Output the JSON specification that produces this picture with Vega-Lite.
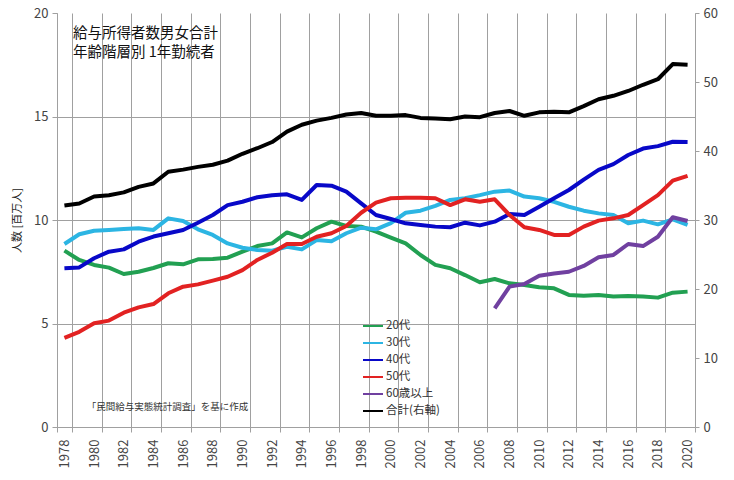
{
  "$schema": "https://vega.github.io/schema/vega-lite/v6.json",
  "width": 638,
  "height": 414,
  "autosize": {"type": "none"},
  "padding": {"left": 57, "top": 13, "right": 39, "bottom": 53},
  "background": "white",
  "title": {
    "text": ["給与所得者数男女合計", "年齢階層別 1年勤続者"],
    "anchor": "start",
    "frame": "group",
    "orient": "top",
    "offset": 0,
    "baseline": "top",
    "dx": 16,
    "dy": 53,
    "fontSize": 14.5,
    "fontWeight": "normal",
    "color": "#111111",
    "lineHeight": 19,
    "font": "Noto Sans CJK JP"
  },
  "datasets": {
    "ages": [
      {"year": 1978, "group": "20代", "value": 8.52}, {"year": 1979, "group": "20代", "value": 8.07}, {"year": 1980, "group": "20代", "value": 7.83}, {"year": 1981, "group": "20代", "value": 7.7}, {"year": 1982, "group": "20代", "value": 7.39}, {"year": 1983, "group": "20代", "value": 7.5}, {"year": 1984, "group": "20代", "value": 7.68}, {"year": 1985, "group": "20代", "value": 7.91}, {"year": 1986, "group": "20代", "value": 7.86}, {"year": 1987, "group": "20代", "value": 8.1}, {"year": 1988, "group": "20代", "value": 8.12}, {"year": 1989, "group": "20代", "value": 8.18}, {"year": 1990, "group": "20代", "value": 8.47}, {"year": 1991, "group": "20代", "value": 8.74}, {"year": 1992, "group": "20代", "value": 8.87}, {"year": 1993, "group": "20代", "value": 9.4}, {"year": 1994, "group": "20代", "value": 9.16}, {"year": 1995, "group": "20代", "value": 9.6}, {"year": 1996, "group": "20代", "value": 9.92}, {"year": 1997, "group": "20代", "value": 9.71}, {"year": 1998, "group": "20代", "value": 9.68}, {"year": 1999, "group": "20代", "value": 9.44}, {"year": 2000, "group": "20代", "value": 9.15}, {"year": 2001, "group": "20代", "value": 8.87}, {"year": 2002, "group": "20代", "value": 8.31}, {"year": 2003, "group": "20代", "value": 7.83}, {"year": 2004, "group": "20代", "value": 7.67}, {"year": 2005, "group": "20代", "value": 7.34}, {"year": 2006, "group": "20代", "value": 6.99}, {"year": 2007, "group": "20代", "value": 7.15}, {"year": 2008, "group": "20代", "value": 6.94}, {"year": 2009, "group": "20代", "value": 6.86}, {"year": 2010, "group": "20代", "value": 6.75}, {"year": 2011, "group": "20代", "value": 6.7}, {"year": 2012, "group": "20代", "value": 6.38}, {"year": 2013, "group": "20代", "value": 6.34}, {"year": 2014, "group": "20代", "value": 6.38}, {"year": 2015, "group": "20代", "value": 6.3}, {"year": 2016, "group": "20代", "value": 6.33}, {"year": 2017, "group": "20代", "value": 6.3}, {"year": 2018, "group": "20代", "value": 6.25}, {"year": 2019, "group": "20代", "value": 6.49}, {"year": 2020, "group": "20代", "value": 6.54},
      {"year": 1978, "group": "30代", "value": 8.84}, {"year": 1979, "group": "30代", "value": 9.31}, {"year": 1980, "group": "30代", "value": 9.48}, {"year": 1981, "group": "30代", "value": 9.52}, {"year": 1982, "group": "30代", "value": 9.57}, {"year": 1983, "group": "30代", "value": 9.6}, {"year": 1984, "group": "30代", "value": 9.52}, {"year": 1985, "group": "30代", "value": 10.08}, {"year": 1986, "group": "30代", "value": 9.95}, {"year": 1987, "group": "30代", "value": 9.55}, {"year": 1988, "group": "30代", "value": 9.28}, {"year": 1989, "group": "30代", "value": 8.87}, {"year": 1990, "group": "30代", "value": 8.66}, {"year": 1991, "group": "30代", "value": 8.55}, {"year": 1992, "group": "30代", "value": 8.52}, {"year": 1993, "group": "30代", "value": 8.71}, {"year": 1994, "group": "30代", "value": 8.58}, {"year": 1995, "group": "30代", "value": 9.03}, {"year": 1996, "group": "30代", "value": 8.97}, {"year": 1997, "group": "30代", "value": 9.36}, {"year": 1998, "group": "30代", "value": 9.63}, {"year": 1999, "group": "30代", "value": 9.55}, {"year": 2000, "group": "30代", "value": 9.85}, {"year": 2001, "group": "30代", "value": 10.35}, {"year": 2002, "group": "30代", "value": 10.45}, {"year": 2003, "group": "30代", "value": 10.68}, {"year": 2004, "group": "30代", "value": 10.97}, {"year": 2005, "group": "30代", "value": 11.05}, {"year": 2006, "group": "30代", "value": 11.2}, {"year": 2007, "group": "30代", "value": 11.37}, {"year": 2008, "group": "30代", "value": 11.42}, {"year": 2009, "group": "30代", "value": 11.13}, {"year": 2010, "group": "30代", "value": 11.05}, {"year": 2011, "group": "30代", "value": 10.88}, {"year": 2012, "group": "30代", "value": 10.64}, {"year": 2013, "group": "30代", "value": 10.45}, {"year": 2014, "group": "30代", "value": 10.32}, {"year": 2015, "group": "30代", "value": 10.24}, {"year": 2016, "group": "30代", "value": 9.84}, {"year": 2017, "group": "30代", "value": 9.97}, {"year": 2018, "group": "30代", "value": 9.79}, {"year": 2019, "group": "30代", "value": 10.03}, {"year": 2020, "group": "30代", "value": 9.76},
      {"year": 1978, "group": "40代", "value": 7.67}, {"year": 1979, "group": "40代", "value": 7.71}, {"year": 1980, "group": "40代", "value": 8.15}, {"year": 1981, "group": "40代", "value": 8.47}, {"year": 1982, "group": "40代", "value": 8.58}, {"year": 1983, "group": "40代", "value": 8.95}, {"year": 1984, "group": "40代", "value": 9.2}, {"year": 1985, "group": "40代", "value": 9.36}, {"year": 1986, "group": "40代", "value": 9.52}, {"year": 1987, "group": "40代", "value": 9.87}, {"year": 1988, "group": "40代", "value": 10.24}, {"year": 1989, "group": "40代", "value": 10.72}, {"year": 1990, "group": "40代", "value": 10.88}, {"year": 1991, "group": "40代", "value": 11.1}, {"year": 1992, "group": "40代", "value": 11.2}, {"year": 1993, "group": "40代", "value": 11.24}, {"year": 1994, "group": "40代", "value": 10.97}, {"year": 1995, "group": "40代", "value": 11.69}, {"year": 1996, "group": "40代", "value": 11.66}, {"year": 1997, "group": "40代", "value": 11.37}, {"year": 1998, "group": "40代", "value": 10.8}, {"year": 1999, "group": "40代", "value": 10.24}, {"year": 2000, "group": "40代", "value": 10.05}, {"year": 2001, "group": "40代", "value": 9.84}, {"year": 2002, "group": "40代", "value": 9.76}, {"year": 2003, "group": "40代", "value": 9.68}, {"year": 2004, "group": "40代", "value": 9.65}, {"year": 2005, "group": "40代", "value": 9.87}, {"year": 2006, "group": "40代", "value": 9.74}, {"year": 2007, "group": "40代", "value": 9.92}, {"year": 2008, "group": "40代", "value": 10.29}, {"year": 2009, "group": "40代", "value": 10.24}, {"year": 2010, "group": "40代", "value": 10.64}, {"year": 2011, "group": "40代", "value": 11.05}, {"year": 2012, "group": "40代", "value": 11.45}, {"year": 2013, "group": "40代", "value": 11.95}, {"year": 2014, "group": "40代", "value": 12.42}, {"year": 2015, "group": "40代", "value": 12.7}, {"year": 2016, "group": "40代", "value": 13.14}, {"year": 2017, "group": "40代", "value": 13.45}, {"year": 2018, "group": "40代", "value": 13.57}, {"year": 2019, "group": "40代", "value": 13.78}, {"year": 2020, "group": "40代", "value": 13.77},
      {"year": 1978, "group": "50代", "value": 4.31}, {"year": 1979, "group": "50代", "value": 4.6}, {"year": 1980, "group": "50代", "value": 5.01}, {"year": 1981, "group": "50代", "value": 5.14}, {"year": 1982, "group": "50代", "value": 5.52}, {"year": 1983, "group": "50代", "value": 5.78}, {"year": 1984, "group": "50代", "value": 5.94}, {"year": 1985, "group": "50代", "value": 6.46}, {"year": 1986, "group": "50代", "value": 6.78}, {"year": 1987, "group": "50代", "value": 6.89}, {"year": 1988, "group": "50代", "value": 7.07}, {"year": 1989, "group": "50代", "value": 7.26}, {"year": 1990, "group": "50代", "value": 7.58}, {"year": 1991, "group": "50代", "value": 8.07}, {"year": 1992, "group": "50代", "value": 8.42}, {"year": 1993, "group": "50代", "value": 8.84}, {"year": 1994, "group": "50代", "value": 8.84}, {"year": 1995, "group": "50代", "value": 9.19}, {"year": 1996, "group": "50代", "value": 9.36}, {"year": 1997, "group": "50代", "value": 9.71}, {"year": 1998, "group": "50代", "value": 10.35}, {"year": 1999, "group": "50代", "value": 10.84}, {"year": 2000, "group": "50代", "value": 11.05}, {"year": 2001, "group": "50代", "value": 11.08}, {"year": 2002, "group": "50代", "value": 11.08}, {"year": 2003, "group": "50代", "value": 11.05}, {"year": 2004, "group": "50代", "value": 10.72}, {"year": 2005, "group": "50代", "value": 11.0}, {"year": 2006, "group": "50代", "value": 10.88}, {"year": 2007, "group": "50代", "value": 11.0}, {"year": 2008, "group": "50代", "value": 10.24}, {"year": 2009, "group": "50代", "value": 9.65}, {"year": 2010, "group": "50代", "value": 9.52}, {"year": 2011, "group": "50代", "value": 9.28}, {"year": 2012, "group": "50代", "value": 9.28}, {"year": 2013, "group": "50代", "value": 9.68}, {"year": 2014, "group": "50代", "value": 9.97}, {"year": 2015, "group": "50代", "value": 10.08}, {"year": 2016, "group": "50代", "value": 10.24}, {"year": 2017, "group": "50代", "value": 10.72}, {"year": 2018, "group": "50代", "value": 11.2}, {"year": 2019, "group": "50代", "value": 11.9}, {"year": 2020, "group": "50代", "value": 12.13},
      {"year": 2007, "group": "60歳以上", "value": 5.73}, {"year": 2008, "group": "60歳以上", "value": 6.78}, {"year": 2009, "group": "60歳以上", "value": 6.91}, {"year": 2010, "group": "60歳以上", "value": 7.31}, {"year": 2011, "group": "60歳以上", "value": 7.42}, {"year": 2012, "group": "60歳以上", "value": 7.5}, {"year": 2013, "group": "60歳以上", "value": 7.78}, {"year": 2014, "group": "60歳以上", "value": 8.2}, {"year": 2015, "group": "60歳以上", "value": 8.31}, {"year": 2016, "group": "60歳以上", "value": 8.84}, {"year": 2017, "group": "60歳以上", "value": 8.74}, {"year": 2018, "group": "60歳以上", "value": 9.19}, {"year": 2019, "group": "60歳以上", "value": 10.13}, {"year": 2020, "group": "60歳以上", "value": 9.95}
    ],
    "total": [
      {"year": 1978, "group": "合計(右軸)", "value": 32.1}, {"year": 1979, "group": "合計(右軸)", "value": 32.4}, {"year": 1980, "group": "合計(右軸)", "value": 33.4}, {"year": 1981, "group": "合計(右軸)", "value": 33.6}, {"year": 1982, "group": "合計(右軸)", "value": 34.0}, {"year": 1983, "group": "合計(右軸)", "value": 34.8}, {"year": 1984, "group": "合計(右軸)", "value": 35.3}, {"year": 1985, "group": "合計(右軸)", "value": 37.0}, {"year": 1986, "group": "合計(右軸)", "value": 37.3}, {"year": 1987, "group": "合計(右軸)", "value": 37.7}, {"year": 1988, "group": "合計(右軸)", "value": 38.0}, {"year": 1989, "group": "合計(右軸)", "value": 38.6}, {"year": 1990, "group": "合計(右軸)", "value": 39.6}, {"year": 1991, "group": "合計(右軸)", "value": 40.4}, {"year": 1992, "group": "合計(右軸)", "value": 41.3}, {"year": 1993, "group": "合計(右軸)", "value": 42.8}, {"year": 1994, "group": "合計(右軸)", "value": 43.8}, {"year": 1995, "group": "合計(右軸)", "value": 44.4}, {"year": 1996, "group": "合計(右軸)", "value": 44.8}, {"year": 1997, "group": "合計(右軸)", "value": 45.3}, {"year": 1998, "group": "合計(右軸)", "value": 45.5}, {"year": 1999, "group": "合計(右軸)", "value": 45.1}, {"year": 2000, "group": "合計(右軸)", "value": 45.1}, {"year": 2001, "group": "合計(右軸)", "value": 45.2}, {"year": 2002, "group": "合計(右軸)", "value": 44.8}, {"year": 2003, "group": "合計(右軸)", "value": 44.7}, {"year": 2004, "group": "合計(右軸)", "value": 44.6}, {"year": 2005, "group": "合計(右軸)", "value": 45.0}, {"year": 2006, "group": "合計(右軸)", "value": 44.9}, {"year": 2007, "group": "合計(右軸)", "value": 45.5}, {"year": 2008, "group": "合計(右軸)", "value": 45.8}, {"year": 2009, "group": "合計(右軸)", "value": 45.1}, {"year": 2010, "group": "合計(右軸)", "value": 45.6}, {"year": 2011, "group": "合計(右軸)", "value": 45.7}, {"year": 2012, "group": "合計(右軸)", "value": 45.6}, {"year": 2013, "group": "合計(右軸)", "value": 46.5}, {"year": 2014, "group": "合計(右軸)", "value": 47.5}, {"year": 2015, "group": "合計(右軸)", "value": 48.0}, {"year": 2016, "group": "合計(右軸)", "value": 48.7}, {"year": 2017, "group": "合計(右軸)", "value": 49.6}, {"year": 2018, "group": "合計(右軸)", "value": 50.4}, {"year": 2019, "group": "合計(右軸)", "value": 52.6}, {"year": 2020, "group": "合計(右軸)", "value": 52.5}
    ]
  },
  "layer": [
    {
      "layer": [
        {
          "data": {"name": "ages"},
          "mark": {"type": "line", "strokeWidth": 4, "strokeJoin": "round"},
          "encoding": {
            "x": {
              "field": "year",
              "type": "ordinal",
              "bandPosition": 0.5,
              "scale": {"type": "band", "paddingInner": 0, "paddingOuter": 0},
              "axis": {
                "title": null,
                "values": [1978, 1980, 1982, 1984, 1986, 1988, 1990, 1992, 1994, 1996, 1998, 2000, 2002, 2004, 2006, 2008, 2010, 2012, 2014, 2016, 2018, 2020],
                "labelAngle": -90,
                "labelAlign": "right",
                "labelBaseline": "middle",
                "labelPadding": 7,
                "labelOverlap": false,
                "tickSize": 5,
                "tickBand": "extent",
                "grid": true
              }
            },
            "y": {
              "field": "value",
              "type": "quantitative",
              "scale": {"domain": [0, 20], "nice": false},
              "axis": {
                "values": [0, 5, 10, 15, 20],
                "title": "人数 [百万人]",
                "titleFontSize": 11,
                "titleFontWeight": "normal",
                "titleColor": "#222222",
                "titleX": -40,
                "titleY": 207,
                "titleAlign": "center",
                "titleBaseline": "middle",
                "tickSize": 5,
                "labelPadding": 4,
                "grid": true,
                "gridOpacity": {"condition": {"test": "datum.value > 0 && datum.value < 20", "value": 1}, "value": 0}
              }
            },
            "color": {
              "field": "group",
              "type": "nominal",
              "scale": {
                "domain": ["20代", "30代", "40代", "50代", "60歳以上", "合計(右軸)"],
                "range": ["#22a052", "#2cb5e3", "#0808c8", "#e22222", "#7040a0", "#000000"]
              },
              "legend": {
                "orient": "none",
                "legendX": 305,
                "legendY": 302,
                "title": null,
                "symbolType": "stroke",
                "symbolSize": 400,
                "symbolStrokeWidth": 2,
                "labelFontSize": 11.5,
                "labelColor": "#333333",
                "labelOffset": 2,
                "rowPadding": -6
              }
            }
          }
        },
        {
          "data": {"values": [{"note": "「民間給与実態統計調査」を基に作成"}]},
          "mark": {"type": "text", "align": "left", "baseline": "middle", "fontSize": 9.5, "color": "#333333"},
          "encoding": {
            "x": {"datum": 1980, "type": "ordinal", "bandPosition": 0},
            "y": {"datum": 0.97, "type": "quantitative"},
            "text": {"field": "note"}
          }
        }
      ]
    },
    {
      "data": {"name": "total"},
      "mark": {"type": "line", "strokeWidth": 4, "strokeJoin": "round"},
      "encoding": {
        "x": {"field": "year", "type": "ordinal", "bandPosition": 0.5},
        "y": {
          "field": "value",
          "type": "quantitative",
          "scale": {"domain": [0, 60], "nice": false},
          "axis": {
            "orient": "right",
            "values": [0, 10, 20, 30, 40, 50, 60],
            "title": null,
            "grid": false,
            "tickSize": 4,
            "labelPadding": 4
          }
        },
        "color": {
          "field": "group",
          "type": "nominal",
          "scale": {
            "domain": ["20代", "30代", "40代", "50代", "60歳以上", "合計(右軸)"],
            "range": ["#22a052", "#2cb5e3", "#0808c8", "#e22222", "#7040a0", "#000000"]
          }
        }
      }
    }
  ],
  "resolve": {"scale": {"y": "independent"}},
  "config": {
    "font": "Noto Sans CJK JP",
    "view": {"stroke": null},
    "axis": {
      "labelFont": "Noto Sans CJK JP",
      "titleFont": "Noto Sans CJK JP",
      "labelFontSize": 13,
      "labelColor": "#444444",
      "domainColor": "#a0a0a0",
      "tickColor": "#a0a0a0",
      "gridColor": "#a0a0a0",
      "gridWidth": 1,
      "domainWidth": 1
    },
    "legend": {"labelFont": "Noto Sans CJK JP"}
  }
}
